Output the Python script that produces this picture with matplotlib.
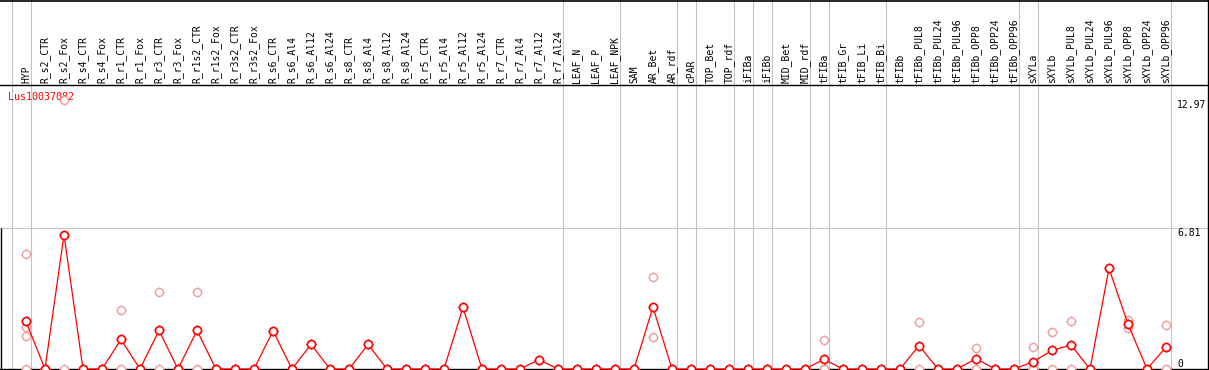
import numpy as np
import matplotlib.pyplot as plt

# sample names, in plotting order
categories = [
    'HYP',
    'R_s2_CTR', 'R_s2_Fox', 'R_s4_CTR', 'R_s4_Fox', 'R_r1_CTR', 'R_r1_Fox',
    'R_r3_CTR', 'R_r3_Fox', 'R_r1s2_CTR', 'R_r1s2_Fox', 'R_r3s2_CTR', 'R_r3s2_Fox',
    'R_s6_CTR', 'R_s6_Al4', 'R_s6_Al12', 'R_s6_Al24',
    'R_s8_CTR', 'R_s8_Al4', 'R_s8_Al12', 'R_s8_Al24',
    'R_r5_CTR', 'R_r5_Al4', 'R_r5_Al12', 'R_r5_Al24',
    'R_r7_CTR', 'R_r7_Al4', 'R_r7_Al12', 'R_r7_Al24',
    'LEAF_N', 'LEAF_P', 'LEAF_NPK',
    'SAM', 'AR_Bet', 'AR_rdf',
    'cPAR',
    'TOP_Bet', 'TOP_rdf',
    'iFIBa',
    'iFIBb',
    'MID_Bet', 'MID_rdf',
    'tFIBa',
    'tFIB_Gr', 'tFIB_Li', 'tFIB_Bi',
    'tFIBb', 'tFIBb_PUL8', 'tFIBb_PUL24', 'tFIBb_PUL96',
    'tFIBb_OPP8', 'tFIBb_OPP24', 'tFIBb_OPP96',
    'sXYLa',
    'sXYLb', 'sXYLb_PUL8', 'sXYLb_PUL24', 'sXYLb_PUL96',
    'sXYLb_OPP8', 'sXYLb_OPP24', 'sXYLb_OPP96',
]

# replicate expression values per sample (means are taken from these)
replicates = [
    [5.55, 2.04, 1.59, 0],
    [0], [12.97, 0], [0], [0], [2.85, 0], [0],
    [3.72, 0], [0], [3.72, 0], [0], [0], [0],
    [1.84], [0], [1.19], [0],
    [0], [1.19], [0], [0],
    [0], [0], [2.98], [0],
    [0], [0], [0.45], [0],
    [0], [0], [0],
    [0], [4.43, 1.55], [0],
    [0],
    [0], [0],
    [0],
    [0],
    [0], [0],
    [1.40, 0, 0],
    [0], [0], [0],
    [0], [2.26, 0], [0], [0],
    [1.00, 0], [0], [0],
    [1.05, 0, 0],
    [1.79, 0], [2.32, 0], [0], [4.86],
    [2.37, 1.97], [0], [2.11, 0],
]

# last sample of each tissue group (-1 = left edge)
group_ends = [-1, 0, 28, 31, 34, 35, 37, 38, 39, 41, 42, 45, 52, 53, 60]

gene = 'Lus10037082'
max_label = 12.97
mid_label = 6.81

red = '#ff0000'
pink = '#f09a9a'
grid = '#c4c4c4'
mono = 'DejaVu Sans Mono'

means = np.array([np.mean(r) for r in replicates])
x = np.arange(len(categories))

fig = plt.figure(figsize=(12.09, 3.70), dpi=100)
ax = fig.add_axes([0, 0, 1, 1])
ax.set_axis_off()

# pixel layout: first sample at 26px, 19px apart; zero at row 369, 6.81 at row 228
px_per_unit = 141 / mid_label
ax.set_xlim(-26 / 19, (1209 - 26) / 19)
ax.set_ylim(-1 / px_per_unit, 369 / px_per_unit)


def row(p):
    # data value for a pixel row counted from the top
    return (369 - p) / px_per_unit


def col(p):
    return (p - 26) / 19


# frame and grid
for e in group_ends:
    ax.axvline(e + 4.7 / 19, color=grid, lw=0.8, zorder=1)
ax.axhline(mid_label, color=grid, lw=0.8, zorder=1)
ax.axhline(0, color='black', lw=1.0, zorder=2)
ax.axhline(row(85), color='black', lw=1.0, zorder=2)
ax.axhline(row(0.5), color='black', lw=1.2, zorder=2)
ax.axvline(col(1207.5), color='black', lw=1.0, zorder=2)
ax.vlines(col(1.0), 0, mid_label, color='black', lw=1.0, zorder=2)

# replicate points
for i, reps in enumerate(replicates):
    xs = np.full(len(reps), i)
    ax.plot(xs, reps, ls='none', marker='+', ms=7.5, mew=0.8, color=pink, zorder=3)
    ax.plot(xs, reps, ls='none', marker='o', ms=5.8, mfc='white', mec=pink,
            mew=1.0, zorder=3.5)

# mean line
ax.plot(x, means, color=red, lw=0.9, zorder=4)
ax.plot(x, means, ls='none', marker='+', ms=7.5, mew=0.9, color=red, zorder=5)
ax.plot(x, means, ls='none', marker='o', ms=5.8, mfc='white', mec=red,
        mew=1.2, zorder=6)

# sample labels
for i, lab in enumerate(categories):
    ax.text(i, row(83), lab, rotation=90, ha='center', va='bottom',
            fontsize=7, family=mono, zorder=7)

ax.text(col(8), row(97), gene, color=red, ha='left', va='center',
        fontsize=7.2, family=mono, zorder=2)

# value scale on the right
ax.text(col(1177), max_label, f'{max_label:.2f}', ha='left', va='top',
        fontsize=7, family=mono)
ax.text(col(1177), mid_label, f'{mid_label:.2f}', ha='left', va='top',
        fontsize=7, family=mono)
ax.text(col(1177), 0, '0', ha='left', va='bottom', fontsize=7, family=mono)

plt.savefig('out.png', dpi=100)
